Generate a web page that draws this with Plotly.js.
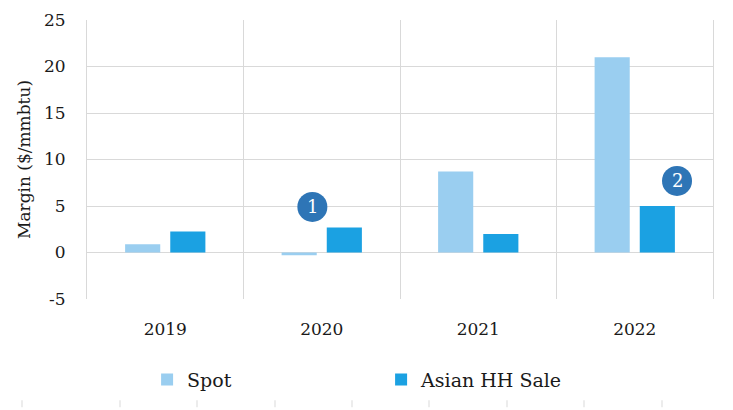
<!DOCTYPE html>
<html>
<head>
<meta charset="utf-8">
<script src="https://cdn.plot.ly/plotly-3.0.1.min.js"></script>
<style>html,body{margin:0;padding:0;background:#fff;}#chart{width:733px;height:410px;}</style>
</head>
<body>
<div id="chart"></div>
<script>
var years = ["2019", "2020", "2021", "2022"];
var spot = [0.9, -0.3, 8.7, 21.0];
var asianHH = [2.25, 2.7, 2.0, 5.0];
var seriesNames = ["Spot", "Asian HH Sale"];
var yTickVals = [-5, 0, 5, 10, 15, 20, 25];
var yTickText = ["-5", "0", "5", "10", "15", "20", "25"];
var calloutLabels = ["1", "2"];
var calloutX = [0.94, 3.27];
var calloutY = [4.9, 7.7];

var FONT = "DejaVu Serif";
var L = 87, R = 20, T = 20, B = 109, W = 733, H = 410;
var PW = W - L - R, PH = H - T - B;
var traces = [
  {type: "bar", name: seriesNames[0], x: years, y: spot, marker: {color: "#9ACEF0"}},
  {type: "bar", name: seriesNames[1], x: years, y: asianHH, marker: {color: "#1BA1E2"}}
];
var shapes = [];
var annotations = [];
for (var i = 0; i < calloutLabels.length; i++) {
  shapes.push({type: "circle", xref: "x", yref: "y", xsizemode: "pixel", ysizemode: "pixel",
    xanchor: calloutX[i], yanchor: calloutY[i], x0: -15, x1: 15, y0: -15, y1: 15,
    fillcolor: "#2E75B6", line: {width: 0}});
  annotations.push({xref: "x", yref: "y", x: calloutX[i], y: calloutY[i], text: calloutLabels[i],
    showarrow: false, font: {family: FONT, size: 18, color: "#ffffff"}, xanchor: "center", yanchor: "middle"});
}
// decorative tick marks along the bottom edge of the image
var edgeTickPx = [22, 120, 197, 275, 352, 429, 507, 584, 662];
edgeTickPx.forEach(function (px) {
  shapes.push({type: "line", xref: "paper", yref: "paper", x0: (px - L) / PW, x1: (px - L) / PW,
    y0: -(403 - (H - B)) / PH, y1: -(410 - (H - B)) / PH, line: {color: "#d9d9d9", width: 1}});
});
var layout = {
  width: W, height: H,
  margin: {l: L, r: R, t: T, b: B},
  paper_bgcolor: "#fff", plot_bgcolor: "#fff",
  font: {family: FONT, size: 17, color: "#1a1a1a"},
  barmode: "group", bargap: 0.423, bargroupgap: 0.222,
  showlegend: true,
  legend: {orientation: "h", x: 0.096, xanchor: "left", y: -0.289, yanchor: "middle",
    font: {family: FONT, size: 19, color: "#1a1a1a"}, entrywidth: 189, entrywidthmode: "pixels"},
  xaxis: {type: "category", tickson: "boundaries", showgrid: true, gridcolor: "#d9d9d9", gridwidth: 1,
    ticks: "", showline: false, zeroline: false, tickfont: {family: FONT, size: 17, color: "#1a1a1a"}, ticklabelstandoff: 18},
  yaxis: {range: [-5, 25], tickvals: yTickVals, ticktext: yTickText, showgrid: true, gridcolor: "#d9d9d9", zeroline: true, zerolinecolor: "#d9d9d9",
    zerolinewidth: 1, ticks: "", showline: true, mirror: true, linecolor: "#d9d9d9", linewidth: 1,
    tickfont: {family: FONT, size: 17, color: "#1a1a1a"}, ticklabelstandoff: 17,
    title: {text: "Margin ($/mmbtu)", font: {family: FONT, size: 17, color: "#1a1a1a"}, standoff: 9}},
  shapes: shapes, annotations: annotations
};
Plotly.newPlot("chart", traces, layout, {displayModeBar: false});
</script>
</body>
</html>
